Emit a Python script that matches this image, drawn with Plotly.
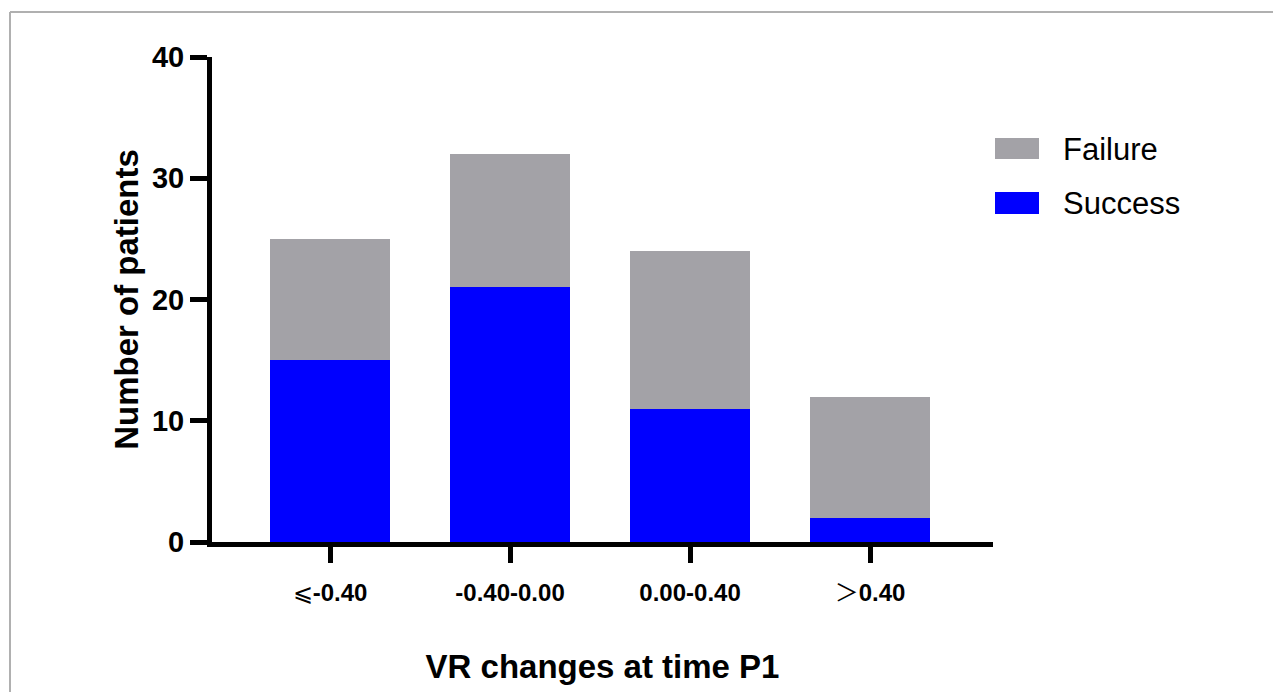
import plotly.graph_objects as go

categories = ["⩽<b>-0.40</b>", "<b>-0.40-0.00</b>", "<b>0.00-0.40</b>", "＞<b>0.40</b>"]
success = [15, 21, 11, 2]
failure = [10, 11, 13, 10]
y_ticks = [0, 10, 20, 30, 40]

x_pos = list(range(len(categories)))
FONT = "Liberation Sans, Arial, Noto Sans CJK SC, sans-serif"
GRAY = "#a3a2a7"
BLUE = "#0000ff"

fig = go.Figure()
fig.add_trace(go.Bar(x=x_pos, y=success, name="Success", marker=dict(color=BLUE, line=dict(width=0)),
                     width=0.667, showlegend=False))
fig.add_trace(go.Bar(x=x_pos, y=failure, name="Failure", marker=dict(color=GRAY, line=dict(width=0)),
                     width=0.667, showlegend=False))

# page offset of the figure inside the browser (default body margin)
OFF = 8
W, H = 1281 - OFF, 692 - OFF
L, T = 212 - OFF, 57 - OFF
R, B = 288, 150
pw = W - L - R
ph = H - T - B

def px(xp):
    return (xp - OFF - L) / pw

def py(yp):
    return (H - B - (yp - OFF)) / ph

fig.update_layout(
    width=W, height=H, barmode="stack",
    margin=dict(l=L, r=R, t=T, b=B, autoexpand=False),
    paper_bgcolor="white", plot_bgcolor="white",
    font=dict(family=FONT, color="black"),
    xaxis=dict(
        range=[-0.6556, 3.683], tickvals=x_pos, ticktext=categories,
        showline=True, linewidth=5, linecolor="black",
        ticks="outside", ticklen=16, tickwidth=5, tickcolor="black",
        tickfont=dict(size=24, family=FONT, color="black"),
        ticklabelstandoff=9,
        showgrid=False, zeroline=False, automargin=False,
        title=dict(text="<b>VR changes at time P1</b>", font=dict(size=33, family=FONT), standoff=52),
    ),
    yaxis=dict(
        range=[0, 40], tickvals=y_ticks,
        showline=True, linewidth=5, linecolor="black",
        ticks="outside", ticklen=17, tickwidth=5, tickcolor="black",
        tickfont=dict(size=29, family=FONT, color="black", weight="bold"),
        showgrid=False, zeroline=False, automargin=False,
        title=dict(text="<b>Number of patients</b>", font=dict(size=33, family=FONT), standoff=5),
    ),
    shapes=[
        dict(type="line", xref="paper", yref="paper", x0=px(10), x1=px(10), y0=py(700), y1=py(12),
             line=dict(color="#b0b0b0", width=2)),
        dict(type="line", xref="paper", yref="paper", x0=px(10), x1=px(1290), y0=py(12), y1=py(12),
             line=dict(color="#b0b0b0", width=2)),
        dict(type="rect", xref="paper", yref="paper", x0=px(995), x1=px(1039), y0=py(159), y1=py(138),
             fillcolor=GRAY, line=dict(width=0)),
        dict(type="rect", xref="paper", yref="paper", x0=px(995), x1=px(1039), y0=py(214), y1=py(192),
             fillcolor=BLUE, line=dict(width=0)),
    ],
    annotations=[
        dict(text="Failure", xref="paper", yref="paper", x=px(1061), y=py(149), xanchor="left", yanchor="middle",
             showarrow=False, font=dict(size=31, family=FONT, color="black")),
        dict(text="Success", xref="paper", yref="paper", x=px(1061), y=py(203), xanchor="left", yanchor="middle",
             showarrow=False, font=dict(size=31, family=FONT, color="black")),
    ],
)

fig.write_html("out.html")
